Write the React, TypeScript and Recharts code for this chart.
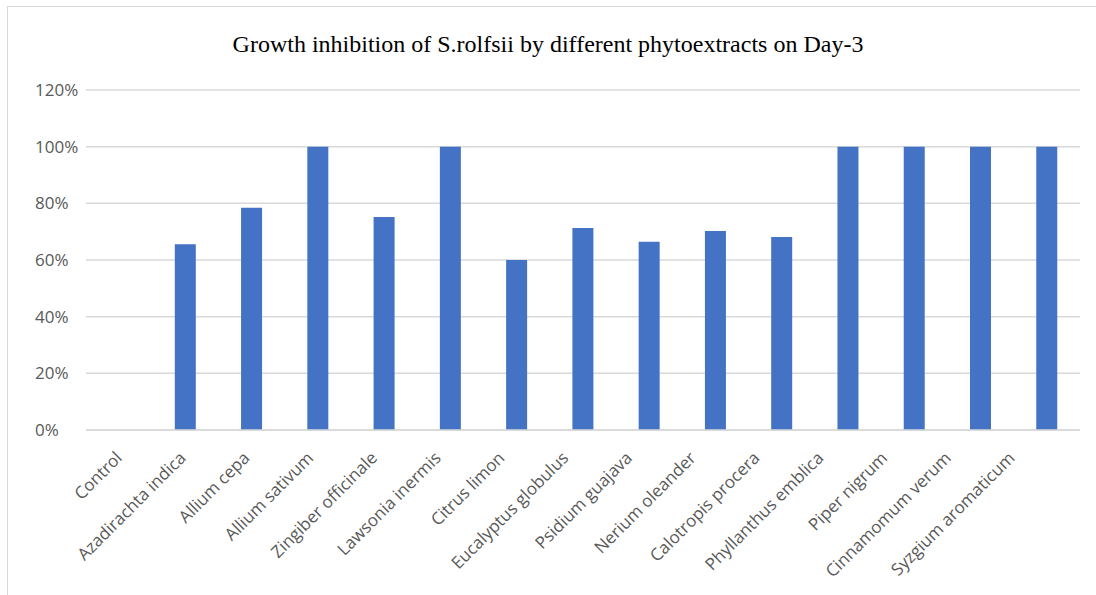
import { Bar, BarChart, CartesianGrid, XAxis, YAxis } from 'recharts';

const plants = [
	'Control',
	'Azadirachta indica',
	'Allium cepa',
	'Allium sativum',
	'Zingiber officinale',
	'Lawsonia inermis',
	'Citrus limon',
	'Eucalyptus globulus',
	'Psidium guajava',
	'Nerium oleander',
	'Calotropis procera',
	'Phyllanthus emblica',
	'Piper nigrum',
	'Cinnamomum verum',
	'Syzgium aromaticum',
];

const inhibition = [
	0, 0.656, 0.784, 1, 0.752, 1, 0.6, 0.713, 0.664, 0.702, 0.681, 1, 1, 1, 1,
];

const yTicks = [0, 0.2, 0.4, 0.6, 0.8, 1, 1.2];

const data = plants.map((name, i) => ({ name, value: inhibition[i] }));

const labelFont = '"Open Sans", "Liberation Sans", sans-serif';

function YTick(props: any) {
	const { y, payload } = props;
	return (
		<text
			x={35}
			y={y}
			dy={6}
			textAnchor="start"
			fill="#595959"
			fontSize={17}
			fontFamily={labelFont}
		>
			{Math.round(payload.value * 100)}%
		</text>
	);
}

// the source labels drift a little left of their bars as they go right
function XTick(props: any) {
	const { x, y, payload, index } = props;
	const lx = x + 4 - index * 2.5;
	const ly = y + 21;
	return (
		<text
			x={lx}
			y={ly}
			textAnchor="end"
			fill="#595959"
			fontSize={17}
			fontFamily={labelFont}
			transform={`rotate(-45, ${lx}, ${ly})`}
		>
			{payload.value}
		</text>
	);
}

export default function App() {
	return (
		<div
			style={{
				position: 'absolute',
				left: 0,
				top: 0,
				width: 1096,
				height: 595,
				background: '#fff',
				overflow: 'hidden',
			}}
		>
			<div
				style={{
					position: 'absolute',
					left: 7,
					top: 6,
					width: 1200,
					height: 700,
					borderLeft: '1px solid #d9d9d9',
					borderTop: '1px solid #d9d9d9',
				}}
			/>
			<div
				style={{
					position: 'absolute',
					left: 0,
					top: 31,
					width: 1096,
					textAlign: 'center',
					fontFamily: '"Liberation Serif", "Times New Roman", serif',
					fontSize: 24,
					color: '#000',
				}}
			>
				Growth inhibition of S.rolfsii by different phytoextracts on Day-3
			</div>
			<div style={{ position: 'absolute', left: 0, top: 0 }}>
				<BarChart
					width={1096}
					height={595}
					data={data}
					margin={{ top: 90, right: 16, left: 0, bottom: 0 }}
					barCategoryGap="34%"
				>
					<CartesianGrid
						vertical={false}
						stroke="#d9d9d9"
						strokeWidth={1.5}
					/>
					<XAxis
						dataKey="name"
						interval={0}
						tickLine={false}
						axisLine={{ stroke: '#d9d9d9', strokeWidth: 1.5 }}
						height={165}
						tick={<XTick />}
					/>
					<YAxis
						width={86}
						domain={[0, 1.2]}
						ticks={yTicks}
						axisLine={false}
						tickLine={false}
						tick={<YTick />}
					/>
					<Bar dataKey="value" fill="#4472c4" isAnimationActive={false} />
				</BarChart>
			</div>
		</div>
	);
}
